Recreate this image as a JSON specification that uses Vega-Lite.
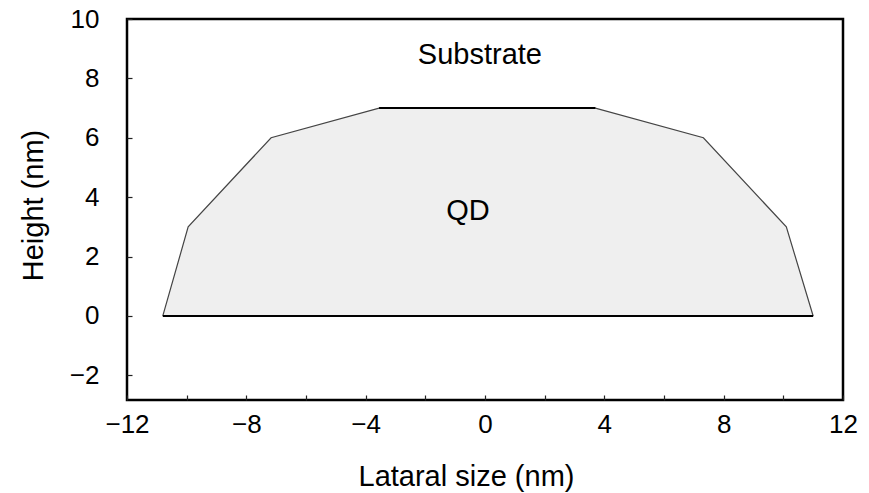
{
  "$schema": "https://vega.github.io/schema/vega-lite/v6.json",
  "width": 716,
  "height": 381,
  "autosize": "none",
  "padding": {"left": 127, "top": 19, "right": 26, "bottom": 93},
  "background": "white",
  "config": {
    "font": "Liberation Sans",
    "view": {"stroke": "black", "strokeWidth": 2.5},
    "axis": {
      "grid": false,
      "domain": false,
      "tickSize": -5,
      "tickColor": "#222",
      "tickWidth": 1.2,
      "labelFont": "Liberation Sans",
      "labelFontSize": 26,
      "labelColor": "black",
      "titleFont": "Liberation Sans",
      "titleFontSize": 29,
      "titleFontWeight": "normal",
      "titleColor": "black"
    }
  },
  "datasets": {
    "shape": [
      {"x": -10.8, "h": 0},
      {"x": -9.95, "h": 3},
      {"x": -7.17, "h": 6},
      {"x": -3.55, "h": 7},
      {"x": 3.7, "h": 7},
      {"x": 7.32, "h": 6},
      {"x": 10.1, "h": 3},
      {"x": 11.0, "h": 0}
    ],
    "edges": [
      {"x1": -3.55, "x2": 3.7, "y": 7},
      {"x1": -10.8, "x2": 11.0, "y": 0}
    ],
    "labels": [
      {"x": -0.17, "y": 8.48, "text": "Substrate"},
      {"x": -0.57, "y": 3.23, "text": "QD"}
    ]
  },
  "layer": [
    {
      "data": {"name": "shape"},
      "mark": {"type": "area", "color": "#efefef", "clip": true},
      "encoding": {
        "x": {
          "field": "x", "type": "quantitative",
          "scale": {"domain": [-12, 12], "nice": false, "zero": false},
          "axis": {
            "values": [-12,-11,-10,-9,-8,-7,-6,-5,-4,-3,-2,-1,0,1,2,3,4,5,6,7,8,9,10,11,12],
            "labelExpr": "datum.value % 4 === 0 ? (datum.value < 0 ? '\u2212' + abs(datum.value) : '' + datum.value) : ''",
            "labelPadding": 16,
            "labelFlush": false,
            "labelOverlap": false,
            "title": "Lataral size (nm)",
            "titleX": 339,
            "titleY": 85,
            "titleBaseline": "alphabetic",
            "titleAnchor": "middle"
          }
        },
        "y": {
          "field": "h", "type": "quantitative",
          "scale": {"domain": [-2.83, 10], "nice": false, "zero": false},
          "axis": {
            "values": [-2,-1,0,1,2,3,4,5,6,7,8,9,10],
            "labelExpr": "datum.value % 2 === 0 ? (datum.value < 0 ? '\u2212' + abs(datum.value) : '' + datum.value) : ''",
            "labelPadding": 33,
            "labelFlush": false,
            "labelOverlap": false,
            "title": "Height (nm)",
            "titleX": -85,
            "titleY": 186,
            "titleAngle": -90,
            "titleBaseline": "alphabetic",
            "titleAnchor": "middle"
          }
        },
        "y2": {"datum": 0}
      }
    },
    {
      "data": {"name": "shape"},
      "mark": {"type": "line", "color": "#444", "strokeWidth": 1.2},
      "encoding": {
        "x": {"field": "x", "type": "quantitative"},
        "y": {"field": "h", "type": "quantitative"}
      }
    },
    {
      "data": {"name": "edges"},
      "mark": {"type": "rule", "color": "black", "strokeWidth": 2},
      "encoding": {
        "x": {"field": "x1", "type": "quantitative"},
        "x2": {"field": "x2"},
        "y": {"field": "y", "type": "quantitative"}
      }
    },
    {
      "data": {"name": "labels"},
      "mark": {"type": "text", "fontSize": 29, "font": "Liberation Sans", "color": "black", "align": "center", "baseline": "alphabetic"},
      "encoding": {
        "x": {"field": "x", "type": "quantitative"},
        "y": {"field": "y", "type": "quantitative"},
        "text": {"field": "text"}
      }
    }
  ]
}
